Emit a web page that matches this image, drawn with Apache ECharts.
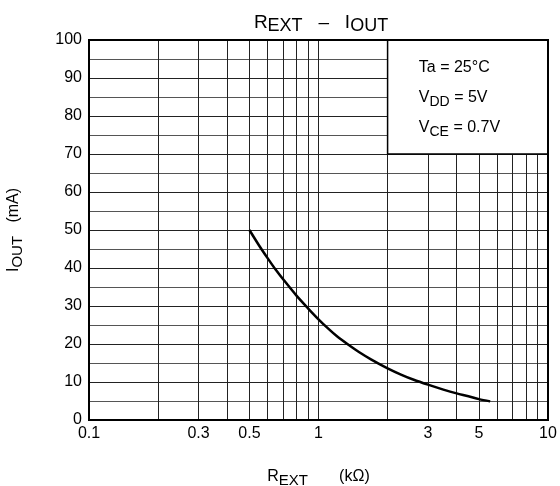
<!DOCTYPE html>
<html><head><meta charset="utf-8">
<script src="https://cdn.jsdelivr.net/npm/echarts@6/dist/echarts.min.js"></script>
<style>html,body{margin:0;padding:0;background:#fff}#c{width:560px;height:486px}</style>
</head><body><div id="c"></div>
<script>
// ---- data ----
const rExt = [0.5, 0.55, 0.6, 0.65, 0.7, 0.8, 0.9, 1, 1.1, 1.2, 1.35, 1.5, 1.7, 2, 2.3, 2.6, 3, 3.5, 4, 4.5, 5, 5.6]; // kΩ
const iOut = [50, 46.0, 42.6, 39.6, 37.1, 32.8, 29.4, 26.5, 24.1, 22.1, 19.8, 17.9, 15.9, 13.6, 11.9, 10.6, 9.3, 8.0, 7.0, 6.25, 5.5, 4.9]; // mA
const xMinorGrid = [0.2, 0.3, 0.4, 0.5, 0.6, 0.7, 0.8, 0.9, 2, 3, 4, 5, 6, 7, 8, 9];
const xExtraLabels = [0.3, 0.5, 3, 5];
const xRange = [0.1, 10];
const yRange = [0, 100];
const yStep = 10;
const boxX = [2, 10];
const boxY = [70, 100];
const condLines = ['{v|Ta = 25°C}', '{v|V}{s|DD}{v| = 5V}', '{v|V}{s|CE}{v| = 0.7V}'];

const F = 'Liberation Sans, Arial, sans-serif';
const chart = echarts.init(document.getElementById('c'), null, {renderer: 'canvas'});
const lblStyle = {color: '#000', fontSize: 16, fontFamily: F};
const subRich = (size, sub) => ({
  m: {fontSize: size, fontWeight: 'normal', color: '#000', fontFamily: F, lineHeight: size + 2, padding: [0, 0, 4, 0]},
  s: {fontSize: sub, fontWeight: 'normal', color: '#000', fontFamily: F, lineHeight: size + 2, padding: [4, 0, 0, 0]}
});

chart.setOption({
  animation: false,
  backgroundColor: '#fff',
  title: {
    text: '{m|R}{s|EXT}{m|   –   I}{s|OUT}',
    left: 316, top: 9, textAlign: 'center',
    textStyle: {fontWeight: 'normal', rich: subRich(19, 18)}
  },
  grid: {left: 89, right: 12, top: 40, bottom: 66, show: true, borderColor: '#000', borderWidth: 2, z: 5, outerBoundsMode: 'none'},
  xAxis: {
    type: 'log', logBase: 10, min: xRange[0], max: xRange[1],
    axisLine: {show: true, lineStyle: {color: '#000', width: 2}},
    axisTick: {show: false},
    axisLabel: Object.assign({margin: 6}, lblStyle),
    splitLine: {show: true, lineStyle: {color: '#222', width: 1}},
    minorTick: {show: false}, minorSplitLine: {show: false},
    name: '{m|R}{s|EXT}{m|       (kΩ)}',
    nameLocation: 'middle', nameGap: 50,
    nameTextStyle: {rich: subRich(16, 15)}
  },
  yAxis: {
    type: 'value', min: yRange[0], max: yRange[1], interval: yStep,
    axisLine: {show: true, lineStyle: {color: '#000', width: 2}},
    axisTick: {show: false},
    axisLabel: Object.assign({margin: 7}, lblStyle),
    splitLine: {show: true, lineStyle: {color: '#222', width: 1}},
    minorTick: {show: false, splitNumber: 2},
    minorSplitLine: {show: true, lineStyle: {color: '#555', width: 1}},
    name: '{m|I}{s|OUT}{m|   (mA)}',
    nameLocation: 'middle', nameGap: 64, nameRotate: 90,
    nameTextStyle: {rich: subRich(16, 15)}
  },
  series: [{
    type: 'line',
    data: rExt.map((r, i) => [r, iOut[i]]),
    smooth: 0.3, symbol: 'none', silent: true, z: 4,
    lineStyle: {color: '#000', width: 2.5},
    markLine: {
      silent: true, z: 1, symbol: ['none', 'none'], animation: false,
      lineStyle: {color: '#222', width: 1, type: 'solid'},
      emphasis: {disabled: true},
      label: {show: false},
      data: xMinorGrid.map(v => ({
        xAxis: v,
        label: xExtraLabels.includes(v)
          ? Object.assign({show: true, position: 'start', distance: 6, formatter: String(v)}, lblStyle)
          : {show: false}
      }))
    },
    markArea: {
      silent: true, z: 3,
      itemStyle: {color: '#fff', borderColor: '#000', borderWidth: 1.5, opacity: 1},
      label: {
        show: true, position: 'insideLeft', distance: 32, offset: [0, 3],
        formatter: condLines.join('\n'),
        rich: {
          v: {fontSize: 16, color: '#000', fontFamily: F, lineHeight: 30, padding: [0, 0, 4, 0]},
          s: {fontSize: 14, color: '#000', fontFamily: F, lineHeight: 30, padding: [4, 0, 0, 0]}
        }
      },
      data: [[{coord: [boxX[0], boxY[0]]}, {coord: [boxX[1], boxY[1]]}]]
    }
  }]
});
</script></body></html>
